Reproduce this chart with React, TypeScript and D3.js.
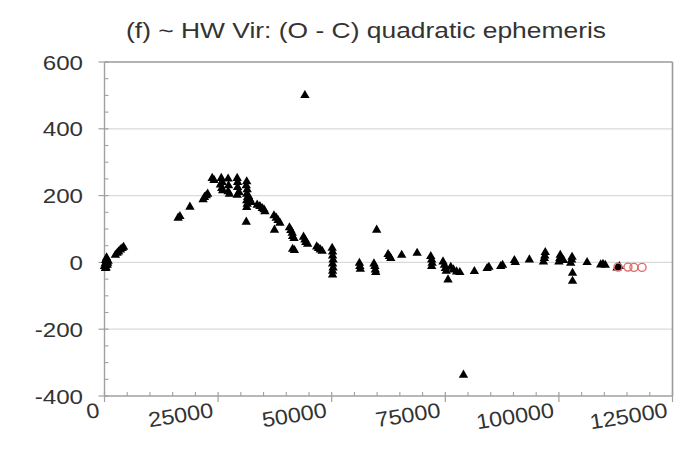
import React from "react";
import * as d3 from "d3";

const W = 693;
const H = 454;

const title = "(f) ~ HW Vir: (O - C) quadratic ephemeris";
const xTicks = [0, 25000, 50000, 75000, 100000, 125000];
const yTicks = [-400, -200, 0, 200, 400, 600];
const xLabels = ["0", "25000", "50000", "75000", "100000", "125000"];
const yLabels = ["-400", "-200", "0", "200", "400", "600"];

// Cycle number E and O - C residual for the main set of timings
const mainE = [
  0, 150, 250, 350, 400, 500, 600, 700, 200, 800, 300, 450,
  2400, 2800, 3100, 3500, 3900, 4200,
  16200, 16600, 18800, 21700, 22000, 22400, 22700, 23700, 24100, 25700, 25800, 26000,
  25500, 25900, 27200, 27300, 27200, 27500, 29200, 29300, 29300, 29200, 29600,
  31300, 31200, 31400, 31300, 31500, 31300, 31400, 31300, 31200, 31700, 32000, 32300,
  33600, 34200, 34700, 35100, 35300, 37300, 37800, 38200, 38600, 37400,
  40700, 41000, 41300, 41400, 41700, 41400, 41800, 43800, 44100, 44300, 44700, 44100,
  46700, 47100, 47500, 47900, 50100, 50200, 50200, 50300, 50200, 50300, 50200, 50200,
  56100, 56200, 56300, 59300, 59500, 59600, 59700, 59900, 62400, 62700, 63000, 65400,
  68800, 71800, 72000, 72100, 72000, 74500, 74800, 75000, 75200, 75600, 76200, 76800,
  77500, 78200, 79000, 81400, 84200, 84600, 87200, 87600, 90200, 90400, 93500,
  96600, 96800, 96900, 97000, 100000, 100200, 100300, 101000, 102600, 102800, 102900,
  103000, 103000, 106200, 109200, 109700, 110200, 112800, 113300,
];
const mainOC = [
  -12, -4, 6, -16, 2, 11, -8, -2, -18, 4, -9, 14,
  22, 28, 32, 38, 42, 46,
  133, 138, 166, 188, 195, 200, 205, 252, 246, 252, 222, 215,
  232, 240, 250, 230, 212, 205, 252, 240, 225, 202, 210,
  242, 230, 218, 205, 195, 185, 175, 165, 121, 198, 188, 180,
  172, 168, 162, 158, 152, 140, 133, 126, 118, 97,
  104, 96, 88, 78, 72, 40, 36, 76, 68, 60, 55, 500,
  47, 42, 38, 34, 43, 32, 20, 8, -4, -16, -26, -37,
  -2, -12, -20, -4, -12, -22, -30, 97, 24, 18, 12, 22,
  28, 18, 8, -2, -12, 2, -8, -18, -26, -52, -14, -22,
  -28, -30, -337, -27, -18, -14, -12, -8, 6, 0, 8,
  2, 12, 20, 30, 2, 12, 22, 6, -2, 8, 16,
  -32, -56, 0, -7, -5, -8, -16, -12,
];

// Most recent timings, drawn as open circles
const recentE = [113000, 115200, 116500, 118300];
const recentOC = [-14, -14, -15, -15];

const FONT = "'Liberation Sans', Arial, Helvetica, sans-serif";
const TEXT = "#333333";

export default function App() {
  const x = d3.scaleLinear().domain([0, 125000]).range([104.5, 672.5]);
  const y = d3.scaleLinear().domain([-400, 600]).range([396, 62]);

  const tri = d3.symbol().type(d3.symbolTriangle).size(38)() as string;
  const xMinor = d3.range(0, 125001, 5000).filter((v) => v % 25000 !== 0);
  const yMinor = d3.range(-400, 601, 50).filter((v) => v % 200 !== 0);

  const [x0, x1] = x.range();
  const [yb, yt] = y.range();

  return (
    <svg
      width={W}
      height={H}
      viewBox={`0 0 ${W} ${H}`}
      style={{ position: "absolute", left: 0, top: 0, background: "#fff" }}
    >
      <rect x={0} y={0} width={W} height={H} fill="#fff" />
      <text
        x={366}
        y={38}
        textAnchor="middle"
        fontFamily={FONT}
        fontSize={21.5}
        fill={TEXT}
        textLength={480}
        lengthAdjust="spacingAndGlyphs"
      >
        {title}
      </text>

      {/* horizontal gridlines */}
      {yTicks
        .filter((v) => v !== -400 && v !== 600)
        .map((v) => (
          <line key={`g${v}`} x1={x0} x2={x1} y1={y(v)} y2={y(v)} stroke="#dadada" strokeWidth={1.2} />
        ))}

      {/* frame: top and right edges */}
      <line x1={x0} x2={x1} y1={yt} y2={yt} stroke="#9a9a9a" strokeWidth={1.6} />
      <line x1={x1} x2={x1} y1={yt} y2={yb} stroke="#9a9a9a" strokeWidth={1.6} />

      {/* y axis */}
      <line x1={x0} x2={x0} y1={yt} y2={yb} stroke="#a0a0a0" strokeWidth={1.4} />
      {yTicks.map((v) => (
        <line key={`yt${v}`} x1={x0 - 6} x2={x0 + 4} y1={y(v)} y2={y(v)} stroke="#a0a0a0" strokeWidth={1.2} />
      ))}
      {yMinor.map((v) => (
        <line key={`ym${v}`} x1={x0} x2={x0 + 4} y1={y(v)} y2={y(v)} stroke="#a0a0a0" strokeWidth={1.1} />
      ))}
      {yTicks.map((v, i) => (
        <text
          key={`yl${v}`}
          transform={`translate(83, ${y(v)}) scale(1.15,1)`}
          dy="0.36em"
          textAnchor="end"
          fontFamily={FONT}
          fontSize={21}
          fill={TEXT}
        >
          {yLabels[i]}
        </text>
      ))}

      {/* x axis */}
      <line x1={x0} x2={x1} y1={yb} y2={yb} stroke="#a0a0a0" strokeWidth={1.4} />
      {xTicks.map((v) => (
        <line key={`xt${v}`} x1={x(v)} x2={x(v)} y1={yb - 4} y2={yb + 6} stroke="#a0a0a0" strokeWidth={1.2} />
      ))}
      {xMinor.map((v) => (
        <line key={`xm${v}`} x1={x(v)} x2={x(v)} y1={yb - 4} y2={yb} stroke="#a0a0a0" strokeWidth={1.1} />
      ))}
      {xTicks.map((v, i) => (
        <text
          key={`xl${v}`}
          transform={`translate(${x(v) - 4}, 417) rotate(-9) scale(1.12,1)`}
          textAnchor="end"
          fontFamily={FONT}
          fontSize={21}
          fill={TEXT}
        >
          {xLabels[i]}
        </text>
      ))}

      {/* main timings */}
      <g fill="#000">
        {mainE.map((e, i) => (
          <path key={`m${i}`} d={tri} transform={`translate(${x(e)},${y(mainOC[i])})`} />
        ))}
      </g>

      {/* recent timings */}
      <g fill="none" stroke="#e86a6a" strokeWidth={1.4}>
        {recentE.map((e, i) => (
          <circle key={`r${i}`} cx={x(e)} cy={y(recentOC[i])} r={4} />
        ))}
      </g>
    </svg>
  );
}
